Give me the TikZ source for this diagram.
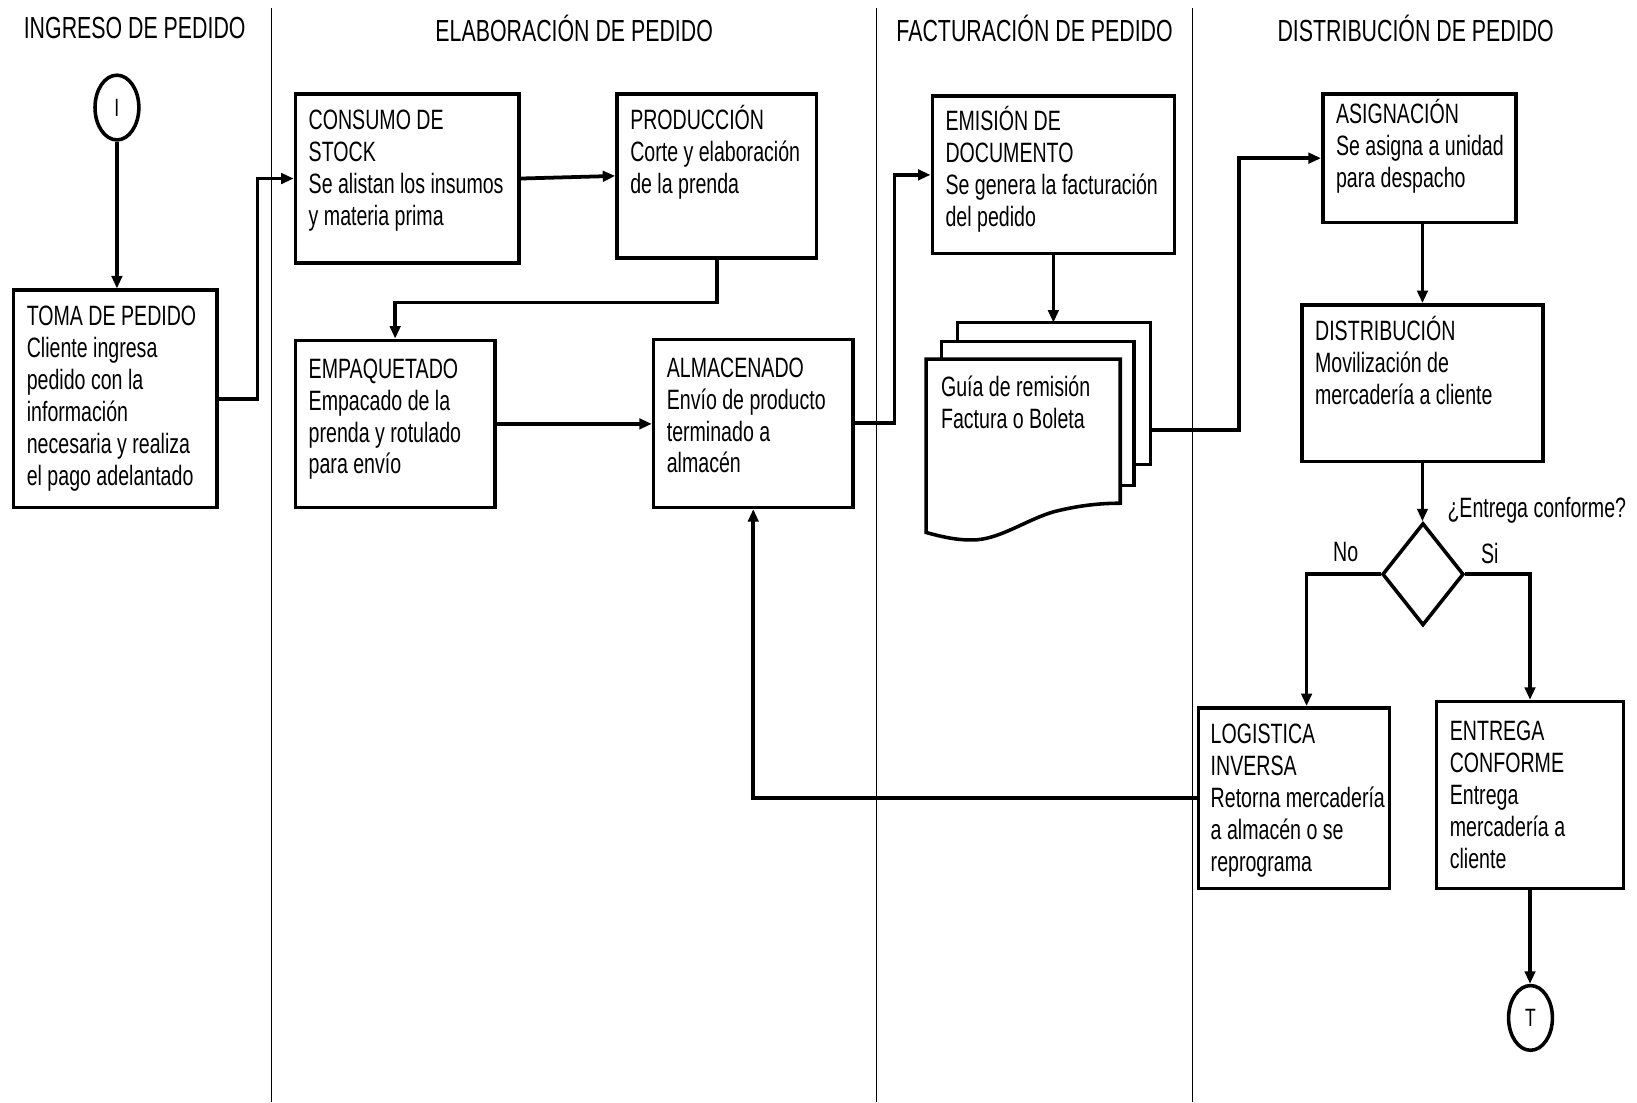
\documentclass[tikz,border=0pt]{standalone}
\usepackage{fontspec}
\setmainfont{Liberation Sans}[FakeStretch=0.70]
\usetikzlibrary{arrows.meta,calc,shapes.geometric}

\tikzset{
  lane/.style={line width=0.5pt},
  box/.style 2 args={draw, line width=1.7pt, rectangle, inner sep=0pt,
    minimum width={#1*0.5pt}, minimum height={#2*0.5pt}},
  txt/.style={anchor=north west, inner sep=0pt, align=left,
    font=\fontsize{13.4}{15.3}\selectfont},
  head/.style={inner sep=0pt, font=\fontsize{14.6}{16}\selectfont},
  lbl/.style={inner sep=0pt, font=\fontsize{13.4}{15}\selectfont},
  flow/.style={line width=1.8pt, -{Triangle[length=6pt,width=5pt]}},
  term/.style={draw, ellipse, line width=1.7pt, inner sep=0pt,
    minimum width=21pt, minimum height=31pt, font=\fontsize{12}{13}\selectfont},
  decision/.style={draw, diamond, line width=1.7pt, inner sep=0pt,
    aspect=0.8, minimum width=39pt, minimum height=49pt},
  page/.style={draw, fill=white, line width=1.7pt, line join=miter}
}
\newcommand{\fl}{\rule{0pt}{13pt}}

\begin{document}
\begin{tikzpicture}[x=0.5pt, y=-0.5pt]
\useasboundingbox (0,0) rectangle (1568,1056);
\fill[white] (0,0) rectangle (1568,1056);

% swimlane separators and titles
\draw[lane] (260,8) -- (260,1056);
\draw[lane] (840,8) -- (840,1056);
\draw[lane] (1142,8) -- (1142,1056);
\node[head] (h1) at (129,27) {INGRESO DE PEDIDO};
\node[head] (h2) at (550,27) {ELABORACIÓN DE PEDIDO};
\node[head] (h3) at (991,27) {FACTURACIÓN DE PEDIDO};
\node[head] (h4) at (1356,27) {DISTRIBUCIÓN DE PEDIDO};

% start / end terminals
\node[term] (ini) at (112,103) {I};
\node[term] (fin) at (1466,975) {T};

% process boxes
\node[box={195}{208}] (toma) at (110.5,382) {};
\node[box={214}{162}] (consumo) at (390,171) {};
\node[box={191}{157}] (produccion) at (686.5,168.5) {};
\node[box={191}{160}] (empaquetado) at (378.5,406) {};
\node[box={191}{161}] (almacenado) at (721.5,405.5) {};
\node[box={232}{151}] (emision) at (1009,167.5) {};
\node[box={185}{123}] (asignacion) at (1359.5,151.5) {};
\node[box={231}{150}] (distribucion) at (1362.5,367) {};
\node[box={183}{173}] (logistica) at (1239.5,764.5) {};
\node[box={179}{179}] (entrega) at (1465.5,761.5) {};

% box texts
\node[txt] (toma-t) at ($(toma.north west)+(14,9)$)
  {\fl TOMA DE PEDIDO\\Cliente ingresa\\pedido con la\\información\\necesaria y realiza\\el pago adelantado};
\node[txt] (consumo-t) at ($(consumo.north west)+(14,9.5)$)
  {\fl CONSUMO DE\\STOCK\\Se alistan los insumos\\y materia prima};
\node[txt] (produccion-t) at ($(produccion.north west)+(14,9.5)$)
  {\fl PRODUCCIÓN\\Corte y elaboración\\de la prenda};
\node[txt] (empaquetado-t) at ($(empaquetado.north west)+(14,11.5)$)
  {\fl EMPAQUETADO\\Empacado de la\\prenda y rotulado\\para envío};
\node[txt] (almacenado-t) at ($(almacenado.north west)+(14,11.5)$)
  {\fl ALMACENADO\\Envío de producto\\terminado a\\almacén};
\node[txt] (emision-t) at ($(emision.north west)+(14,8.5)$)
  {\fl EMISIÓN DE\\DOCUMENTO\\Se genera la facturación\\del pedido};
\node[txt] (asignacion-t) at ($(asignacion.north west)+(14,3.5)$)
  {\fl ASIGNACIÓN\\Se asigna a unidad\\para despacho};
\node[txt] (distribucion-t) at ($(distribucion.north west)+(14,9.5)$)
  {\fl DISTRIBUCIÓN\\Movilización de\\mercadería a cliente};
\node[txt] (logistica-t) at ($(logistica.north west)+(13,9.5)$)
  {\fl LOGISTICA\\INVERSA\\Retorna mercadería\\a almacén o se\\reprograma};
\node[txt] (entrega-t) at ($(entrega.north west)+(14,12.5)$)
  {\fl ENTREGA\\CONFORME\\Entrega\\mercadería a\\cliente};

% multi-document stack
\draw[page] (917,309) rectangle (1102,445);
\draw[page] (902,327) rectangle (1086,465);
\draw[page] (887,344) -- (1073,344) -- (1073,482)
  .. controls (1050,482) and (1030,485) .. (1010,490)
  .. controls (985,497) and (960,515) .. (936,517)
  .. controls (920,518) and (905,515) .. (887,510) -- cycle;
\node[txt] (docs) at (901,353.5) {\fl Guía de remisión\\Factura o Boleta};
\coordinate (docs-in) at (1009,309);
\coordinate (docs-out) at (1102,412);

% decision
\node[decision] (dec) at (1363,550) {};
\node[lbl] (dec-q) at (1472,489) {¿Entrega conforme?};
\node[lbl] (dec-no) at (1289,529) {No};
\node[lbl] (dec-si) at (1427,530) {Si};

% connectors
\draw[flow] (ini.south) -- (ini.south |- toma.north);
\draw[flow] (toma.east) -- ++(37,0) |- (consumo.west);
\draw[flow] (consumo.east) -- (produccion.west);
\draw[flow] (produccion.south) -- ++(0,41) -| (empaquetado.north);
\draw[flow] (empaquetado.east) -- (empaquetado.east -| almacenado.west);
\draw[flow] (almacenado.east) -- ++(38,0) |- (emision.west);
\draw[flow] (emision.south) -- (docs-in);
\draw[flow] (docs-out) -- ++(85,0) |- (asignacion.west);
\draw[flow] (distribucion.north |- asignacion.south) -- (distribucion.north);
\draw[flow] (distribucion.south) -- (distribucion.south |- dec.north);
\draw[flow] (dec.west) -| ($(logistica.north)+(12,0)$);
\draw[flow] (dec.east) -| (entrega.north);
\draw[flow] (logistica.west) -| (almacenado.south);
\draw[flow] (entrega.south) -- (entrega.south |- fin.north);
\end{tikzpicture}
\end{document}
